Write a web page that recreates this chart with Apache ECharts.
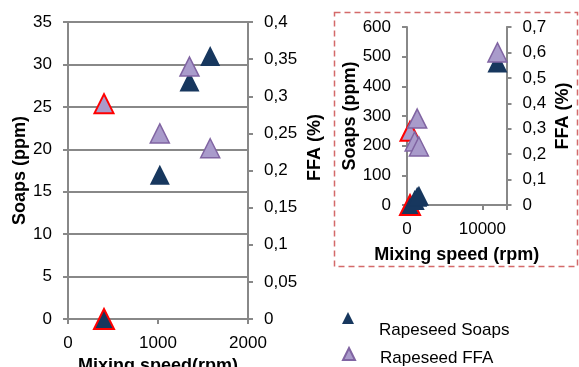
<!DOCTYPE html>
<html>
<head>
<meta charset="utf-8">
<script src="https://cdn.jsdelivr.net/npm/echarts@6/dist/echarts.min.js"></script>
<style>
html,body{margin:0;padding:0;background:#fff;}
#c{width:579px;height:367px;}
</style>
</head>
<body>
<div id="c"></div>
<script>
// ---- data ----
const seriesNames = ['Rapeseed Soaps', 'Rapeseed FFA'];
const speeds = [400, 1020, 1350, 1580];
const soaps = [0, 17, 28, 31];
const ffa = [0.29, 0.25, 0.34, 0.23];
const insetSpeeds = [400, 1020, 1350, 1580, 12000];
const insetSoaps = [0, 17, 28, 31, 480];
const insetFfa = [0.29, 0.25, 0.34, 0.23, 0.6];
const highlightIndex = 0; // red-outlined point

// ---- styles ----
const FONT = 'Liberation Sans, Arial, sans-serif';
const NAVY = '#17375E';
const PURPLE = '#A99BCB';
const PURPLE_EDGE = '#8064A2';
const AXIS = '#888888';
const comma = v => String(Math.round(v * 100) / 100).replace('.', ',');
const plain = v => String(v);

function pts(xs, ys) {
  return xs.map((x, i) => {
    const d = { value: [x, ys[i]] };
    if (i === highlightIndex) d.itemStyle = { borderColor: '#FF0000', borderWidth: 2 };
    return d;
  });
}

const lbl = { color: '#000', fontFamily: FONT, fontSize: 17, margin: 16, formatter: plain };
const nameStyle = { color: '#000', fontFamily: FONT, fontSize: 18, fontWeight: 'bold' };
const axLine = { show: true, lineStyle: { color: AXIS, width: 2 } };
const axTick = { show: true, length: 5, inside: false, lineStyle: { color: AXIS, width: 2 } };

function legendItem(name, top, shift) {
  return {
    data: [name], left: 337, top: top, itemWidth: 12, itemHeight: 12,
    formatter: '{t|{name}}',
    textStyle: {
      color: '#000', fontFamily: FONT, fontSize: 17,
      rich: { t: { color: '#000', fontFamily: FONT, fontSize: 17, padding: [shift * 2, 0, 0, 20] } }
    }
  };
}

const chart = echarts.init(document.getElementById('c'));
chart.setOption({
  animation: false,
  backgroundColor: '#fff',
  grid: [
    { left: 68, right: 331, top: 22, bottom: 48, containLabel: false, outerBoundsMode: 'none' },
    { left: 407, right: 72.5, top: 27, bottom: 162, containLabel: false, outerBoundsMode: 'none' }
  ],
  xAxis: [
    { gridIndex: 0, type: 'value', min: 0, max: 2000, interval: 1000,
      axisLine: axLine, axisTick: axTick, splitLine: { show: false },
      axisLabel: lbl,
      name: 'Mixing speed(rpm)', nameLocation: 'middle', nameGap: 33, nameTextStyle: nameStyle },
    { gridIndex: 1, type: 'value', min: 0, max: 13200, interval: 10000,
      axisLine: axLine, axisTick: axTick, splitLine: { show: false },
      axisLabel: Object.assign({}, lbl, { formatter: v => (v % 10000 === 0 ? String(v) : '') }),
      name: 'Mixing speed (rpm)', nameLocation: 'middle', nameGap: 41, nameTextStyle: nameStyle }
  ],
  yAxis: [
    { gridIndex: 0, type: 'value', position: 'left', min: 0, max: 35, interval: 5,
      axisLine: axLine, axisTick: axTick,
      splitLine: { show: true, lineStyle: { color: AXIS, width: 2 } },
      axisLabel: lbl,
      name: 'Soaps (ppm)', nameLocation: 'middle', nameRotate: 90, nameGap: 33, nameTextStyle: nameStyle },
    { gridIndex: 0, type: 'value', position: 'right', min: 0, max: 0.4, interval: 0.05,
      axisLine: axLine, axisTick: axTick, splitLine: { show: false },
      axisLabel: Object.assign({}, lbl, { formatter: comma }),
      name: 'FFA (%)', nameLocation: 'middle', nameRotate: 90, nameGap: 58,
      nameTextStyle: Object.assign({}, nameStyle, { padding: [0, 0, 0, 46] }) },
    { gridIndex: 1, type: 'value', position: 'left', min: 0, max: 600, interval: 100,
      axisLine: axLine, axisTick: axTick, splitLine: { show: false },
      axisLabel: lbl,
      name: 'Soaps (ppm)', nameLocation: 'middle', nameRotate: 90, nameGap: 47, nameTextStyle: nameStyle },
    { gridIndex: 1, type: 'value', position: 'right', min: 0, max: 0.7, interval: 0.1,
      axisLine: axLine, axisTick: axTick, splitLine: { show: false },
      axisLabel: Object.assign({}, lbl, { formatter: comma }),
      name: 'FFA (%)', nameLocation: 'middle', nameRotate: 90, nameGap: 48, nameTextStyle: nameStyle }
  ],
  legend: [
    legendItem(seriesNames[0], 307, 12),
    legendItem(seriesNames[1], 342, 4)
  ],
  graphic: [
    { type: 'rect', shape: { x: 334.5, y: 12.5, width: 243, height: 254 }, z: -1,
      style: { fill: 'none', stroke: '#D46A6A', lineWidth: 1.5, lineDash: [6, 4] } }
  ],
  series: [
    { name: seriesNames[0], type: 'scatter', xAxisIndex: 0, yAxisIndex: 0,
      symbol: 'triangle', symbolSize: 20, itemStyle: { color: NAVY, opacity: 1 },
      data: pts(speeds, soaps) },
    { name: seriesNames[1], type: 'scatter', xAxisIndex: 0, yAxisIndex: 1,
      symbol: 'triangle', symbolSize: 19, itemStyle: { color: PURPLE, borderColor: PURPLE_EDGE, borderWidth: 1.5, opacity: 1 },
      data: pts(speeds, ffa) },
    { name: seriesNames[0], type: 'scatter', xAxisIndex: 1, yAxisIndex: 2,
      symbol: 'triangle', symbolSize: 20, itemStyle: { color: NAVY, opacity: 1 },
      data: pts(insetSpeeds, insetSoaps) },
    { name: seriesNames[1], type: 'scatter', xAxisIndex: 1, yAxisIndex: 3,
      symbol: 'triangle', symbolSize: 19, itemStyle: { color: PURPLE, borderColor: PURPLE_EDGE, borderWidth: 1.5, opacity: 1 },
      data: pts(insetSpeeds, insetFfa) }
  ]
});
</script>
</body>
</html>
